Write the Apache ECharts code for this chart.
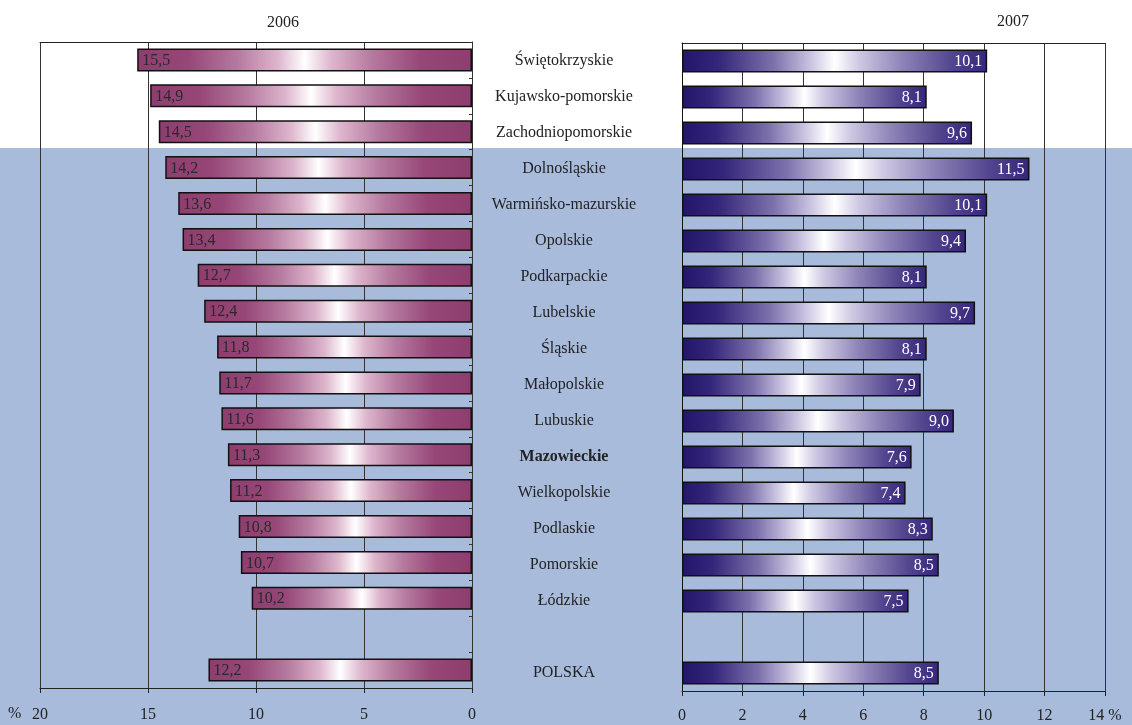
<!DOCTYPE html>
<html>
<head>
<meta charset="utf-8">
<script src="https://cdn.jsdelivr.net/npm/echarts@6/dist/echarts.min.js"></script>
<style>html,body{margin:0;padding:0;background:#fff}#c{width:1132px;height:725px}</style>
</head>
<body>
<div id="c"></div>
<script>
var regions = ['Świętokrzyskie','Kujawsko-pomorskie','Zachodniopomorskie','Dolnośląskie','Warmińsko-mazurskie','Opolskie','Podkarpackie','Lubelskie','Śląskie','Małopolskie','Lubuskie','Mazowieckie','Wielkopolskie','Podlaskie','Pomorskie','Łódzkie','','POLSKA'];
var values2006 = [15.5,14.9,14.5,14.2,13.6,13.4,12.7,12.4,11.8,11.7,11.6,11.3,11.2,10.8,10.7,10.2,null,12.2];
var values2007 = [10.1,8.1,9.6,11.5,10.1,9.4,8.1,9.7,8.1,7.9,9.0,7.6,7.4,8.3,8.5,7.5,null,8.5];
var titles = ['2006','2007'];

var FONT = '"Liberation Serif", "Times New Roman", serif';
var TXT = '#222';
function fmt(v){ return v.toFixed(1).replace('.', ','); }

var gradPurple = new echarts.graphic.LinearGradient(0,0,1,0,[
  {offset:0,color:'#8E3D6F'},{offset:0.15,color:'#964677'},{offset:0.3,color:'#B57A9F'},
  {offset:0.42,color:'#DDB5CC'},{offset:0.5,color:'#FFFFFF'},{offset:0.58,color:'#DDB5CC'},
  {offset:0.7,color:'#B57A9F'},{offset:0.85,color:'#964677'},{offset:1,color:'#8E3D6F'}]);
var gradBlue = new echarts.graphic.LinearGradient(0,0,1,0,[
  {offset:0,color:'#22156A'},{offset:0.12,color:'#34267A'},{offset:0.3,color:'#7D71AC'},
  {offset:0.42,color:'#C9C2E0'},{offset:0.5,color:'#FFFFFF'},{offset:0.58,color:'#CEC8E3'},
  {offset:0.72,color:'#8F84B8'},{offset:0.88,color:'#544790'},{offset:1,color:'#35267A'}]);

var chart = echarts.init(document.getElementById('c'));
var option = {
  backgroundColor: '#ffffff',
  animation: false,
  textStyle: { fontFamily: FONT, color: TXT },
  title: [
    { text: titles[0], left: 278, top: 10, textAlign: 'center', textStyle: { fontFamily: FONT, fontSize: 16, fontWeight: 'normal', color: TXT } },
    { text: titles[1], left: 1008, top: 9, textAlign: 'center', textStyle: { fontFamily: FONT, fontSize: 16, fontWeight: 'normal', color: TXT } }
  ],
  graphic: [
    { type: 'rect', left: 0, top: 148, z: -10, silent: true, shape: { width: 1132, height: 577 }, style: { fill: '#A8BBDB' } },
    { type: 'text', left: 8, top: 706, z: 10, style: { text: '%', font: '16px ' + FONT, fill: TXT } }
  ],
  grid: [
    { left: 40, width: 432, top: 42, height: 646 },
    { left: 682, width: 423, top: 43, height: 648 }
  ],
  xAxis: [
    { gridIndex: 0, type: 'value', inverse: true, min: 0, max: 20, interval: 5, position: 'bottom',
      axisLine: { show: true, lineStyle: { color: '#222', width: 1 } },
      axisTick: { show: true, length: 5, lineStyle: { color: '#222' } },
      axisLabel: { margin: 19, fontSize: 16, fontFamily: FONT, color: TXT },
      splitLine: { show: true, lineStyle: { color: '#333', width: 1 } } },
    { gridIndex: 0, type: 'value', inverse: true, min: 0, max: 20, position: 'top',
      axisLine: { show: true, lineStyle: { color: '#222', width: 1 } },
      axisTick: { show: false }, axisLabel: { show: false }, splitLine: { show: false } },
    { gridIndex: 1, type: 'value', min: 0, max: 14, interval: 2, position: 'bottom',
      axisLine: { show: true, lineStyle: { color: '#222', width: 1 } },
      axisTick: { show: true, length: 5, lineStyle: { color: '#222' } },
      axisLabel: { margin: 17, fontSize: 16, fontFamily: FONT, color: TXT,
        formatter: function(v){ return v === 14 ? '14 %' : String(v); } },
      splitLine: { show: true, lineStyle: { color: '#333', width: 1 } } },
    { gridIndex: 1, type: 'value', min: 0, max: 14, position: 'top',
      axisLine: { show: true, lineStyle: { color: '#222', width: 1 } },
      axisTick: { show: false }, axisLabel: { show: false }, splitLine: { show: false } }
  ],
  yAxis: [
    { gridIndex: 0, type: 'category', data: regions, inverse: true, position: 'right',
      axisLine: { show: true, lineStyle: { color: '#333', width: 1 } },
      axisTick: { show: true, inside: true, length: 3, lineStyle: { color: '#333' } },
      axisLabel: { show: false }, splitLine: { show: false } },
    { gridIndex: 1, type: 'category', data: regions, inverse: true, position: 'left',
      axisLine: { show: true, lineStyle: { color: '#111', width: 1 } },
      axisTick: { show: false },
      axisLabel: { show: true, align: 'center', margin: 118, fontSize: 16, fontFamily: FONT, color: TXT,
        formatter: function(v){ return v === 'Mazowieckie' ? '{b|' + v + '}' : v; },
        rich: { b: { fontWeight: 'bold', fontSize: 16, fontFamily: FONT, color: TXT } } },
      splitLine: { show: false } }
  ],
  series: [
    { type: 'bar', xAxisIndex: 0, yAxisIndex: 0, data: values2006, barWidth: 23,
      itemStyle: { color: gradPurple, borderColor: '#111', borderWidth: 1.5 },
      label: { show: true, position: 'insideLeft', offset: [0, 1], fontSize: 16, fontFamily: FONT, color: '#2a2a2a',
        formatter: function(p){ return p.value == null ? '' : fmt(p.value); } } },
    { type: 'bar', xAxisIndex: 2, yAxisIndex: 1, data: values2007, barWidth: 23,
      itemStyle: { color: gradBlue, borderColor: '#111', borderWidth: 1.5 },
      label: { show: true, position: 'insideRight', offset: [0, 1], fontSize: 16, fontFamily: FONT, color: '#ffffff',
        formatter: function(p){ return p.value == null ? '' : fmt(p.value); } } }
  ]
};
chart.setOption(option);
</script>
</body>
</html>
